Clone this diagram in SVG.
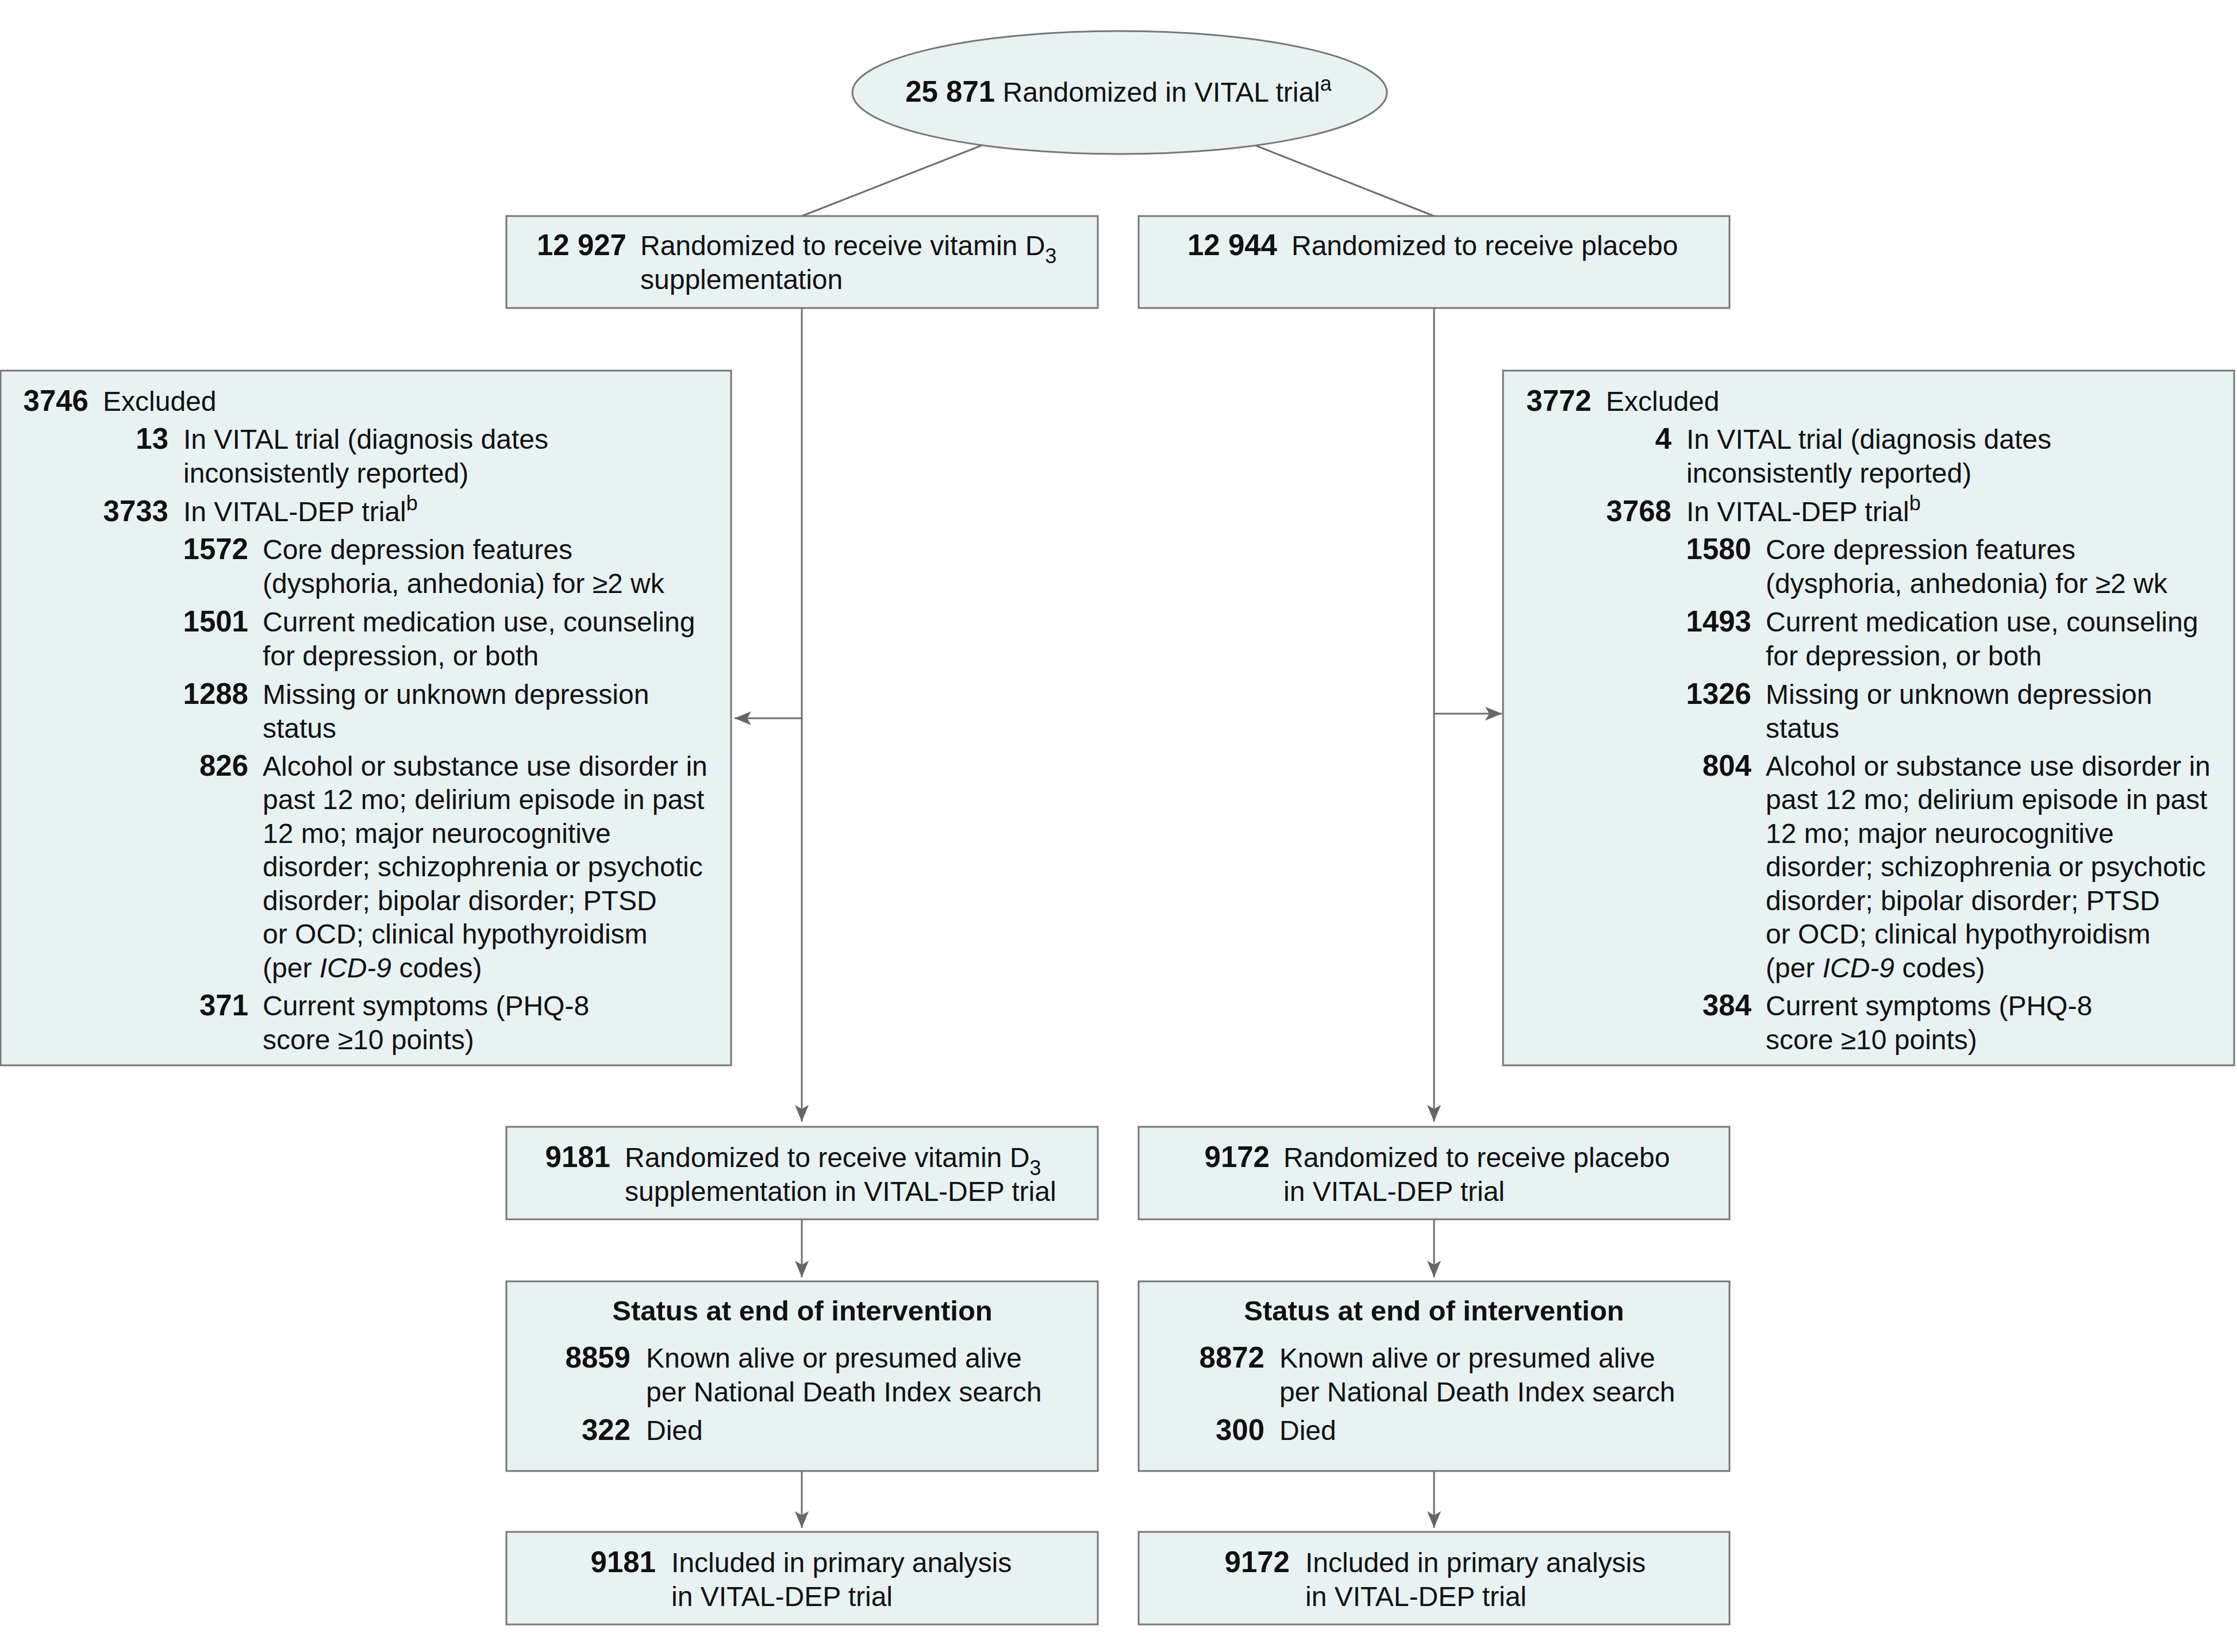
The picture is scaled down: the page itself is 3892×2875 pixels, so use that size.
<svg xmlns="http://www.w3.org/2000/svg" width="3892" height="2875" viewBox="0 0 3892 2875">
<style>
.box{fill:#E8F2F3;stroke:#777777;stroke-width:3}
.ln{fill:none;stroke:#6E6E6E;stroke-width:3}
text{font-family:"Liberation Sans",Arial,sans-serif;font-size:48px;fill:#111111}
.n{font-weight:bold;font-size:51px;text-anchor:end}
.b{font-weight:bold}
.t{font-weight:bold;font-size:49px;text-anchor:middle}
.sup{font-size:36px}
.i{font-style:italic}
</style>
<defs>
<marker id="ah" viewBox="-30 -13 31 26" refX="0" refY="0" markerWidth="31" markerHeight="26" markerUnits="userSpaceOnUse" orient="auto">
<path d="M0,0 L-29,-12 L-22,0 L-29,12 Z" fill="#666666"/>
</marker>
</defs>
<rect width="3892" height="2875" fill="#FFFFFF"/>

<g id="connectors">
<path class="ln" d="M1708,253 L1395,376"/>
<path class="ln" d="M2184,253 L2495,376"/>
<path class="ln" d="M1395,536 L1395,1952" marker-end="url(#ah)"/>
<path class="ln" d="M1395,1250 L1278,1250" marker-end="url(#ah)"/>
<path class="ln" d="M2495,536 L2495,1952" marker-end="url(#ah)"/>
<path class="ln" d="M2495,1242 L2613,1242" marker-end="url(#ah)"/>
<path class="ln" d="M1395,2122 L1395,2223" marker-end="url(#ah)"/>
<path class="ln" d="M2495,2122 L2495,2223" marker-end="url(#ah)"/>
<path class="ln" d="M1395,2560 L1395,2659" marker-end="url(#ah)"/>
<path class="ln" d="M2495,2560 L2495,2659" marker-end="url(#ah)"/>
</g>

<g id="randomized">
<ellipse class="box" cx="1948" cy="161" rx="465" ry="107"/>
<text x="1946" y="177" text-anchor="middle"><tspan class="b" font-size="51">25 871</tspan>  Randomized in VITAL trial<tspan class="sup" dy="-19">a</tspan></text>
</g>

<g id="vitd">
<rect class="box" x="881" y="376" width="1029" height="160"/>
<text class="n" x="1090" y="444">12 927</text>
<text x="1114" y="444">Randomized to receive vitamin D<tspan class="sup" dy="14">3</tspan></text>
<text x="1114" y="503">supplementation</text>
</g>

<g id="placebo">
<rect class="box" x="1981" y="376" width="1028" height="160"/>
<text class="n" x="2222" y="444">12 944</text>
<text x="2247" y="444">Randomized to receive placebo</text>
</g>

<g id="excl-left">
<rect class="box" x="1" y="645" width="1271" height="1209"/>
<text class="n" x="154" y="715">3746</text>
<text x="179" y="715">Excluded</text>
<text class="n" x="293" y="781">13</text>
<text x="319" y="781">In VITAL trial (diagnosis dates</text>
<text x="319" y="840">inconsistently reported)</text>
<text class="n" x="293" y="907">3733</text>
<text x="319" y="907">In VITAL-DEP trial<tspan class="sup" dy="-19">b</tspan></text>
<text class="n" x="432" y="973">1572</text>
<text x="457" y="973">Core depression features</text>
<text x="457" y="1032">(dysphoria, anhedonia) for ≥2 wk</text>
<text class="n" x="432" y="1099">1501</text>
<text x="457" y="1099">Current medication use, counseling</text>
<text x="457" y="1158">for depression, or both</text>
<text class="n" x="432" y="1225">1288</text>
<text x="457" y="1225">Missing or unknown depression</text>
<text x="457" y="1284">status</text>
<text class="n" x="432" y="1350">826</text>
<text x="457" y="1350">Alcohol or substance use disorder in</text>
<text x="457" y="1408">past 12 mo; delirium episode in past</text>
<text x="457" y="1467">12 mo; major neurocognitive</text>
<text x="457" y="1525">disorder; schizophrenia or psychotic</text>
<text x="457" y="1584">disorder; bipolar disorder; PTSD</text>
<text x="457" y="1642">or OCD; clinical hypothyroidism</text>
<text x="457" y="1701">(per <tspan class="i">ICD-9</tspan> codes)</text>
<text class="n" x="432" y="1767">371</text>
<text x="457" y="1767">Current symptoms (PHQ-8</text>
<text x="457" y="1826">score ≥10 points)</text>
</g>

<g id="excl-right">
<rect class="box" x="2615" y="645" width="1272" height="1209"/>
<text class="n" x="2769" y="715">3772</text>
<text x="2794" y="715">Excluded</text>
<text class="n" x="2908" y="781">4</text>
<text x="2934" y="781">In VITAL trial (diagnosis dates</text>
<text x="2934" y="840">inconsistently reported)</text>
<text class="n" x="2908" y="907">3768</text>
<text x="2934" y="907">In VITAL-DEP trial<tspan class="sup" dy="-19">b</tspan></text>
<text class="n" x="3047" y="973">1580</text>
<text x="3072" y="973">Core depression features</text>
<text x="3072" y="1032">(dysphoria, anhedonia) for ≥2 wk</text>
<text class="n" x="3047" y="1099">1493</text>
<text x="3072" y="1099">Current medication use, counseling</text>
<text x="3072" y="1158">for depression, or both</text>
<text class="n" x="3047" y="1225">1326</text>
<text x="3072" y="1225">Missing or unknown depression</text>
<text x="3072" y="1284">status</text>
<text class="n" x="3047" y="1350">804</text>
<text x="3072" y="1350">Alcohol or substance use disorder in</text>
<text x="3072" y="1408">past 12 mo; delirium episode in past</text>
<text x="3072" y="1467">12 mo; major neurocognitive</text>
<text x="3072" y="1525">disorder; schizophrenia or psychotic</text>
<text x="3072" y="1584">disorder; bipolar disorder; PTSD</text>
<text x="3072" y="1642">or OCD; clinical hypothyroidism</text>
<text x="3072" y="1701">(per <tspan class="i">ICD-9</tspan> codes)</text>
<text class="n" x="3047" y="1767">384</text>
<text x="3072" y="1767">Current symptoms (PHQ-8</text>
<text x="3072" y="1826">score ≥10 points)</text>
</g>

<g id="dep-vitd">
<rect class="box" x="881" y="1961" width="1029" height="161"/>
<text class="n" x="1062" y="2031">9181</text>
<text x="1087" y="2031">Randomized to receive vitamin D<tspan class="sup" dy="14">3</tspan></text>
<text x="1087" y="2090">supplementation in VITAL-DEP trial</text>
</g>

<g id="dep-placebo">
<rect class="box" x="1981" y="1961" width="1028" height="161"/>
<text class="n" x="2209" y="2031">9172</text>
<text x="2233" y="2031">Randomized to receive placebo</text>
<text x="2233" y="2090">in VITAL-DEP trial</text>
</g>

<g id="status-vitd">
<rect class="box" x="881" y="2230" width="1029" height="330"/>
<text class="t" x="1396" y="2298">Status at end of intervention</text>
<text class="n" x="1097" y="2380">8859</text>
<text x="1124" y="2380">Known alive or presumed alive</text>
<text x="1124" y="2439">per National Death Index search</text>
<text class="n" x="1097" y="2506">322</text>
<text x="1124" y="2506">Died</text>
</g>

<g id="status-placebo">
<rect class="box" x="1981" y="2230" width="1028" height="330"/>
<text class="t" x="2495" y="2298">Status at end of intervention</text>
<text class="n" x="2200" y="2380">8872</text>
<text x="2226" y="2380">Known alive or presumed alive</text>
<text x="2226" y="2439">per National Death Index search</text>
<text class="n" x="2200" y="2506">300</text>
<text x="2226" y="2506">Died</text>
</g>

<g id="incl-vitd">
<rect class="box" x="881" y="2666" width="1029" height="161"/>
<text class="n" x="1141" y="2736">9181</text>
<text x="1168" y="2736">Included in primary analysis</text>
<text x="1168" y="2795">in VITAL-DEP trial</text>
</g>

<g id="incl-placebo">
<rect class="box" x="1981" y="2666" width="1028" height="161"/>
<text class="n" x="2244" y="2736">9172</text>
<text x="2271" y="2736">Included in primary analysis</text>
<text x="2271" y="2795">in VITAL-DEP trial</text>
</g>
</svg>
